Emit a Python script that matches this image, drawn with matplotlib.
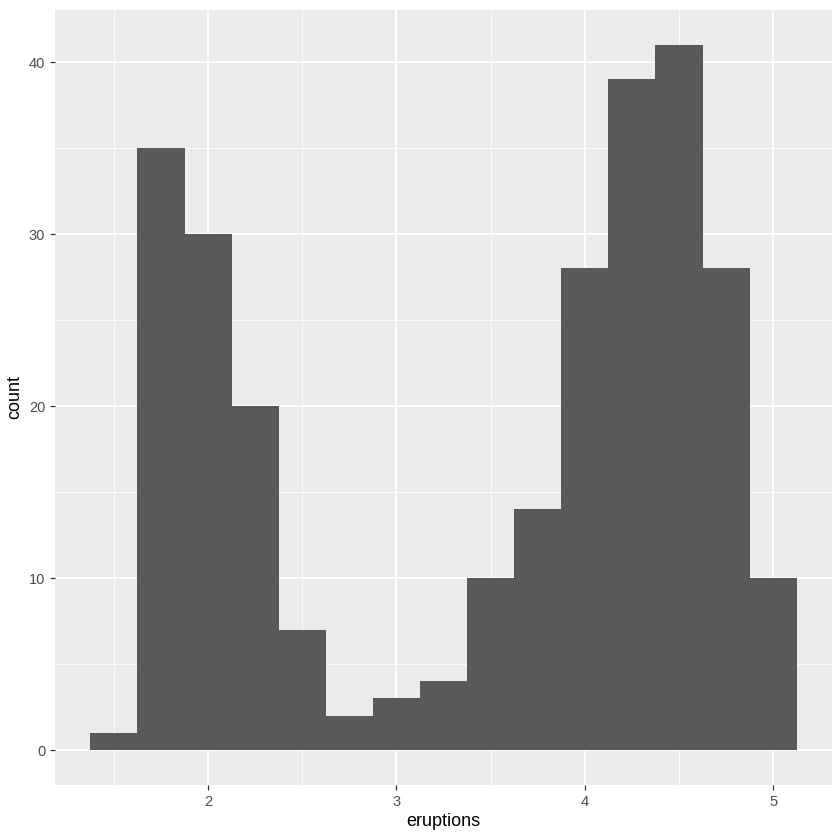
import numpy as np
import matplotlib.pyplot as plt

plt.rcParams['font.family'] = ['Liberation Sans', 'DejaVu Sans']

# faithful eruptions histogram, binwidth 0.25
bin_edges = np.arange(1.375, 5.126, 0.25)
counts = [1, 35, 30, 20, 7, 2, 3, 4, 10, 14, 28, 39, 41, 28, 10]
x_ticks = [2, 3, 4, 5]
y_ticks = [0, 10, 20, 30, 40]

fig = plt.figure(figsize=(8.4, 8.4), dpi=100)
ax = fig.add_axes([55 / 840, 54.7 / 840, 777 / 840, 775.7 / 840])
ax.set_facecolor('#EBEBEB')

lo, hi = bin_edges[0], bin_edges[-1]
pad = (hi - lo) * 0.05
ax.set_xlim(lo - pad, hi + pad)
ax.set_ylim(-max(counts) * 0.05, max(counts) * 1.05)

for v in np.arange(1.5, 5.01, 1.0):
    ax.axvline(v, color='white', lw=0.6, zorder=0)
for v in [5, 15, 25, 35]:
    ax.axhline(v, color='white', lw=0.6, zorder=0)
for v in x_ticks:
    ax.axvline(v, color='white', lw=1.3, zorder=0)
for v in y_ticks:
    ax.axhline(v, color='white', lw=1.3, zorder=0)

ax.bar(bin_edges[:-1], counts, width=np.diff(bin_edges), align='edge',
       color='#595959', lw=0, zorder=2)

ax.set_xticks(x_ticks)
ax.set_yticks(y_ticks)
ax.tick_params(colors='#333333', labelcolor='#4D4D4D', labelsize=10.5,
               length=3.5, width=0.9)
for s in ax.spines.values():
    s.set_visible(False)

ax.set_xlabel('eruptions', fontsize=13, color='black', labelpad=3)
ax.set_ylabel('count', fontsize=13, color='black', labelpad=4)

fig.savefig('out.png', dpi=100)
